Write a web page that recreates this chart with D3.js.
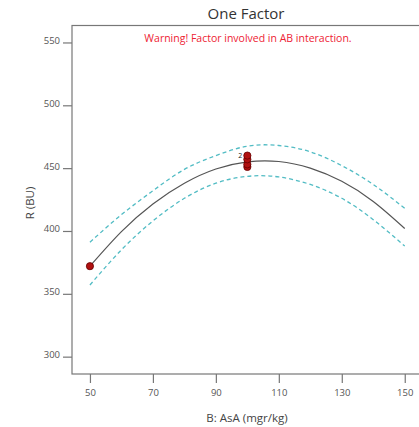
<!DOCTYPE html>
<html>
<head>
<meta charset="utf-8">
<script src="https://cdn.jsdelivr.net/npm/d3@7"></script>
<style>
  body { margin: 0; background: #fff; }
  text { font-family: "Open Sans", sans-serif; }
</style>
</head>
<body>
<svg id="chart" width="419" height="427"></svg>
<script>
// values
const xGrid = [50, 60, 70, 80, 90, 100, 110, 120, 130, 140, 150];
const fitted = [372, 399.5, 421.5, 438, 449.3, 455, 455.3, 450, 439.5, 423.5, 402];
const upperBand = [391, 413, 432, 449, 460, 467.5, 468, 463, 452, 437, 418];
const lowerBand = [357, 385, 408, 426, 438, 443.5, 443, 437, 426, 409, 388];
const obsX = [50, 100, 100, 100, 100];
const obsY = [372, 451, 453, 457, 460];
const xTicks = [50, 70, 90, 110, 130, 150];
const yTicks = [300, 350, 400, 450, 500, 550];

const svg = d3.select("#chart");
const plotL = 72, plotT = 25.5, plotR = 423, plotB = 374;

let x = d3.scaleLinear().domain([44.3, 155.8]).range([plotL, plotR]);
let y = d3.scaleLinear().domain([286.2, 563.5]).range([plotB, plotT]);

svg.append("text")
  .attr("x", 246).attr("y", 19)
  .attr("text-anchor", "middle")
  .attr("font-size", "15px").attr("fill", "#333")
  .text("One Factor");

svg.append("rect")
  .attr("x", plotL).attr("y", plotT)
  .attr("width", plotR - plotL).attr("height", plotB - plotT)
  .attr("fill", "none").attr("stroke", "#777").attr("stroke-width", 1.2);

// y axis, ticks outside to the left
let yAxis = svg.append("g").attr("transform", "translate(" + plotL + ",0)")
  .call(d3.axisLeft(y).tickValues(yTicks).tickSize(9).tickPadding(3));
// x axis
let xAxis = svg.append("g").attr("transform", "translate(0," + plotB + ")")
  .call(d3.axisBottom(x).tickValues(xTicks).tickSize(9).tickPadding(6));

[yAxis, xAxis].forEach(function(a) {
  a.select(".domain").remove();
  a.selectAll("line").attr("stroke", "#777").attr("stroke-width", 1.2);
  a.selectAll("text").attr("fill", "#555").attr("font-size", "9.5px")
    .style("font-family", "'Open Sans', sans-serif");
});
yAxis.selectAll("text").attr("dy", "0.1em");

svg.append("text")
  .attr("transform", "translate(34,203) rotate(-90)")
  .attr("text-anchor", "middle")
  .attr("font-size", "11.5px").attr("fill", "#444")
  .text("R (BU)");

svg.append("text")
  .attr("x", 247).attr("y", 422)
  .attr("text-anchor", "middle")
  .attr("font-size", "11.5px").attr("fill", "#444")
  .text("B: AsA (mgr/kg)");

svg.append("text")
  .attr("x", 248).attr("y", 42)
  .attr("text-anchor", "middle")
  .attr("font-size", "10.5px").attr("fill", "#ee2233")
  .text("Warning! Factor involved in AB interaction.");

let line = function(vals) {
  return d3.line()
    .x(function(d, i) { return x(xGrid[i]); })
    .y(function(d) { return y(d); })
    .curve(d3.curveNatural)(vals);
};

[upperBand, lowerBand].forEach(function(band) {
  svg.append("path")
    .attr("d", line(band))
    .attr("fill", "none")
    .attr("stroke", "#52bcc4")
    .attr("stroke-width", 1.3)
    .attr("stroke-dasharray", "4,3");
});

svg.append("path")
  .attr("d", line(fitted))
  .attr("fill", "none")
  .attr("stroke", "#555")
  .attr("stroke-width", 1.2);

svg.selectAll("circle.obs")
  .data(obsY)
  .enter().append("circle")
  .attr("class", "obs")
  .attr("cx", function(d, i) { return x(obsX[i]); })
  .attr("cy", function(d) { return y(d); })
  .attr("r", 3.6)
  .attr("fill", "#b01010")
  .attr("stroke", "#600")
  .attr("stroke-width", 0.8);

// count marker next to the stacked points
svg.append("text")
  .attr("x", x(100) - 9).attr("y", y(459.5) + 2)
  .attr("font-size", "7px").attr("fill", "#222")
  .text("2");
</script>
</body>
</html>
